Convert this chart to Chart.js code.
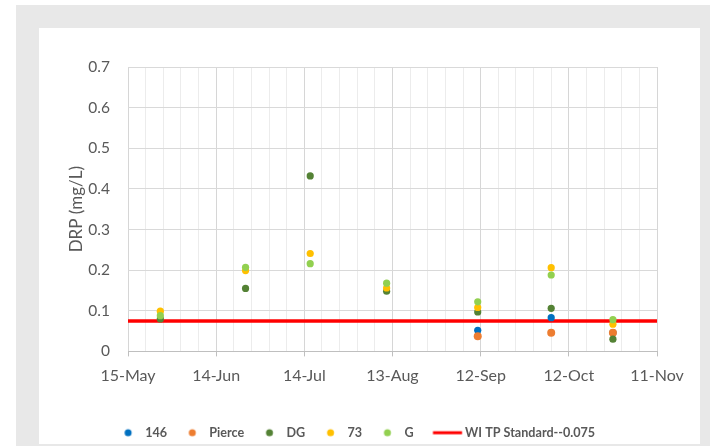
<!DOCTYPE html>
<html>
<head>
<meta charset="utf-8">
<script src="https://cdn.jsdelivr.net/npm/chart.js@4.4.1/dist/chart.umd.min.js"></script>
<style>
html,body{margin:0;padding:0;background:#fff;width:710px;height:446px;overflow:hidden;}
#outer{position:absolute;left:16px;top:5px;width:694px;height:441px;background:#e8e8e8;}
#panel{position:absolute;left:39px;top:28px;width:661px;height:416px;background:#fff;}
canvas{display:block;}
</style>
</head>
<body>
<div id="outer"></div>
<div id="panel"><canvas id="c" width="661" height="416"></canvas></div>
<script>
// x values: days after 15-May
const tickLabels = ['15-May','14-Jun','14-Jul','13-Aug','12-Sep','12-Oct','11-Nov'];
const yTickLabels = ['0','0.1','0.2','0.3','0.4','0.5','0.6','0.7'];
const seriesNames = ['146','Pierce','DG','73','G'];
const daysAll = [11, 40, 62, 88, 119, 144, 165];
const days146 = [119, 144, 165];
const vals146 = [0.052, 0.083, 0.046];
const daysPierce = [119, 144, 165];
const valsPierce = [0.037, 0.046, 0.046];
const valsDG = [0.080, 0.155, 0.432, 0.148, 0.097, 0.106, 0.030];
const vals73 = [0.099, 0.199, 0.241, 0.156, 0.108, 0.206, 0.067];
const valsG = [0.088, 0.207, 0.216, 0.168, 0.122, 0.188, 0.078];
const standardName = 'WI TP Standard--0.075';
const standardValue = 0.075;
const standardDays = [0, 180];

const colors = {'146':'#0070c0','Pierce':'#ed7d31','DG':'#548235','73':'#ffc000','G':'#92d050'};

function pts(xs, ys){ return xs.map((x,i)=>({x:x, y:ys[i]})); }

function circleImg(color){
  const c = document.createElement('canvas');
  c.width = 22; c.height = 10;
  const g = c.getContext('2d');
  g.fillStyle = color; g.beginPath(); g.arc(5.75, 5, 3.5, 0, Math.PI*2); g.fill();
  return c;
}
function lineImg(color){
  const c = document.createElement('canvas');
  c.width = 42; c.height = 6;
  const g = c.getContext('2d');
  g.fillStyle = color; g.fillRect(0.75, 1.5, 29, 3);
  return c;
}

const scatterData = [
  pts(days146, vals146),
  pts(daysPierce, valsPierce),
  pts(daysAll, valsDG),
  pts(daysAll, vals73),
  pts(daysAll, valsG)
];

// later series drawn on top (lower order = on top)
const datasets = seriesNames.map((n,i)=>({
  type:'scatter', label:n, data:scatterData[i],
  backgroundColor:colors[n], borderColor:colors[n], borderWidth:0,
  pointRadius: n==='Pierce'?4:3.6, pointHoverRadius:4, order:seriesNames.length - i
}));
datasets.push({
  type:'line', label:standardName,
  data: standardDays.map(d=>({x:d, y:standardValue})),
  borderColor:'#ff0000', backgroundColor:'#ff0000', borderWidth:3.5,
  pointRadius:0, order:10
});

const FONT = 'Lato, "Open Sans", sans-serif';

new Chart(document.getElementById('c'), {
  data:{datasets},
  options:{
    responsive:false, animation:false, devicePixelRatio:1,
    layout:{padding:{left:27, right:43, top:39, bottom:-5}},
    plugins:{
      tooltip:{enabled:false},
      legend:{
        position:'bottom',
        labels:{
          usePointStyle:true, pointStyleWidth:11, padding:25,
          color:'#595959', font:{family:FONT, size:12.6, weight:'bold'},
          sort:(a,b)=> a.datasetIndex - b.datasetIndex,
          generateLabels(chart){
            const items = Chart.defaults.plugins.legend.labels.generateLabels(chart);
            items.forEach((it)=>{
              const ds = chart.data.datasets[it.datasetIndex];
              if (ds.type==='line'){ it.pointStyle = lineImg('#ff0000'); }
              else { it.pointStyle = circleImg(ds.backgroundColor); }
              if (ds.label==='G') it.text = 'G   ';
            });
            return items;
          }
        }
      }
    },
    scales:{
      x:{
        type:'linear', min:0, max:180,
        afterBuildTicks(scale){
          const t=[]; for(let v=0; v<=180; v+=6) t.push({value:v}); scale.ticks=t;
        },
        afterFit(scale){ scale.height = 50; },
        ticks:{
          autoSkip:false, maxRotation:0, minRotation:0, padding:10,
          color:'#595959', font:{family:FONT, size:16},
          callback:(v)=> (v%30===0 ? tickLabels[v/30] : '')
        },
        grid:{
          color:(ctx)=> (ctx.tick && ctx.tick.value%30===0 ? '#d6d6d6' : '#ececec'),
          tickColor:(ctx)=> (ctx.tick && ctx.tick.value%30===0 ? '#bfbfbf' : 'rgba(0,0,0,0)'),
          tickLength:5, lineWidth:1
        },
        border:{color:'#bfbfbf', width:1}
      },
      y:{
        type:'linear', min:0, max:0.7,
        afterBuildTicks(scale){
          scale.ticks = yTickLabels.map((l,i)=>({value:i/10}));
        },
        afterFit(scale){ scale.width = 62; },
        ticks:{
          padding:18, color:'#595959', font:{family:FONT, size:15.5},
          callback:(v,i)=> yTickLabels[i]
        },
        grid:{color:'#d9d9d9', drawTicks:false, lineWidth:1},
        border:{display:false},
        title:{
          display:true, text:'DRP (mg/L)', color:'#595959',
          font:{family:FONT, size:17}, padding:{top:0, bottom:0}
        }
      }
    }
  }
});
</script>
</body>
</html>
